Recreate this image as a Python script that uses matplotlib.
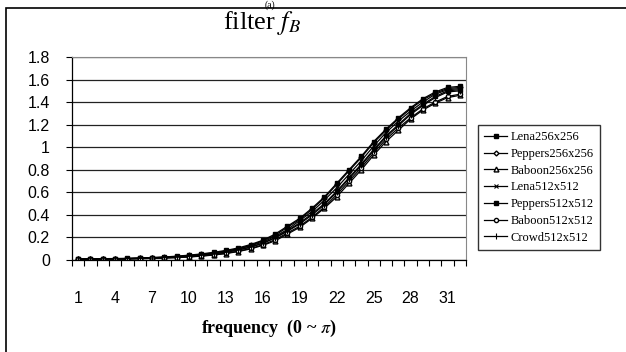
"""Filter f_B response curves for seven test images."""

import matplotlib
matplotlib.use("Agg")
import matplotlib.pyplot as plt
from matplotlib.patches import Rectangle
from matplotlib.ticker import FixedLocator, NullFormatter, FixedFormatter

frequency = list(range(1, 33))

lena256 = [0.01, 0.01, 0.01, 0.01, 0.012, 0.015, 0.018, 0.022, 0.027, 0.034,
           0.043, 0.055, 0.07, 0.09, 0.115, 0.15, 0.2, 0.26, 0.33, 0.41,
           0.5, 0.61, 0.73, 0.85, 0.98, 1.1, 1.2, 1.3, 1.38, 1.45, 1.5, 1.51]
peppers256 = [0.01, 0.01, 0.01, 0.011, 0.013, 0.016, 0.02, 0.025, 0.031, 0.04,
              0.05, 0.063, 0.08, 0.1, 0.13, 0.17, 0.22, 0.29, 0.36, 0.45,
              0.55, 0.67, 0.79, 0.91, 1.04, 1.15, 1.25, 1.34, 1.42, 1.48, 1.52, 1.53]
baboon256 = [0.008, 0.008, 0.008, 0.009, 0.01, 0.012, 0.014, 0.017, 0.021, 0.027,
             0.034, 0.044, 0.057, 0.075, 0.098, 0.13, 0.17, 0.23, 0.29, 0.37,
             0.46, 0.56, 0.68, 0.8, 0.93, 1.05, 1.15, 1.25, 1.33, 1.39, 1.44, 1.46]
lena512 = [0.01, 0.01, 0.01, 0.01, 0.012, 0.015, 0.019, 0.023, 0.029, 0.037,
           0.047, 0.06, 0.076, 0.097, 0.125, 0.16, 0.21, 0.27, 0.35, 0.43,
           0.53, 0.64, 0.76, 0.88, 1.01, 1.13, 1.23, 1.32, 1.4, 1.47, 1.51, 1.52]
peppers512 = [0.012, 0.012, 0.012, 0.013, 0.015, 0.018, 0.022, 0.027, 0.034, 0.043,
              0.054, 0.068, 0.085, 0.107, 0.137, 0.175, 0.23, 0.3, 0.37, 0.46,
              0.56, 0.68, 0.8, 0.92, 1.05, 1.16, 1.26, 1.35, 1.43, 1.49, 1.53, 1.54]
baboon512 = [0.008, 0.008, 0.008, 0.009, 0.01, 0.012, 0.015, 0.018, 0.022, 0.028,
             0.036, 0.046, 0.06, 0.078, 0.102, 0.135, 0.18, 0.24, 0.3, 0.38,
             0.47, 0.58, 0.7, 0.82, 0.95, 1.07, 1.17, 1.26, 1.34, 1.4, 1.45, 1.47]
crowd512 = [0.01, 0.01, 0.01, 0.01, 0.012, 0.014, 0.017, 0.021, 0.026, 0.033,
            0.042, 0.053, 0.068, 0.088, 0.113, 0.148, 0.195, 0.255, 0.32, 0.4,
            0.49, 0.6, 0.72, 0.84, 0.97, 1.09, 1.19, 1.29, 1.37, 1.44, 1.49, 1.5]

series = [
    ("Lena256x256", lena256, dict(marker="s", ms=3, mfc="black")),
    ("Peppers256x256", peppers256, dict(marker="D", ms=2.5, mfc="white")),
    ("Baboon256x256", baboon256, dict(marker="^", ms=3.5, mfc="white")),
    ("Lena512x512", lena512, dict(marker="x", ms=3, mew=0.8)),
    ("Peppers512x512", peppers512, dict(marker="s", ms=3.5, mfc="black")),
    ("Baboon512x512", baboon512, dict(marker="o", ms=3, mfc="white")),
    ("Crowd512x512", crowd512, dict(marker="|", ms=5, mew=0.8)),
]

y_ticks = [0, 0.2, 0.4, 0.6, 0.8, 1, 1.2, 1.4, 1.6, 1.8]
y_labels = ["0", "0.2", "0.4", "0.6", "0.8", "1", "1.2", "1.4", "1.6", "1.8"]
x_label_pos = [1, 4, 7, 10, 13, 16, 19, 22, 25, 28, 31]

W, H = 626, 352
plt.rcParams["mathtext.fontset"] = "stix"
fig = plt.figure(figsize=(W / 100, H / 100), dpi=100)
fig.patch.set_facecolor("white")

# outer frame (only left/top edges fall inside the crop)
fig.patches.append(Rectangle((6 / W, -0.05), 1.2, 1 - 8 / H + 0.05,
                             transform=fig.transFigure, fill=False,
                             edgecolor="black", linewidth=1.2))
fig.text(270 / W, 1.0, "(a)", ha="center", va="top",
         family="Liberation Serif", fontsize=7)

ax = fig.add_axes([72 / W, 1 - 260 / H, (466 - 72) / W, (260 - 57) / H])

for name, vals, style in series:
    ax.plot(frequency, vals, color="black", linewidth=0.9, mec="black",
            label=name, **style)

ax.set_xlim(0.5, 32.5)
ax.set_ylim(0, 1.8)
ax.set_yticks(y_ticks)
ax.set_yticklabels(y_labels, family="Liberation Sans", fontsize=11.5)
ax.yaxis.grid(True, color="#222222", linewidth=0.9)
ax.set_axisbelow(True)

ax.xaxis.set_major_locator(FixedLocator([i + 0.5 for i in range(0, 33)]))
ax.xaxis.set_major_formatter(NullFormatter())
ax.xaxis.set_minor_locator(FixedLocator(x_label_pos))
ax.xaxis.set_minor_formatter(FixedFormatter([str(v) for v in x_label_pos]))
ax.tick_params(axis="x", which="major", direction="out", length=4, width=0.8)
ax.tick_params(axis="x", which="minor", length=0, pad=22,
               labelsize=11.5, labelfontfamily="Liberation Sans")
ax.tick_params(axis="y", direction="out", length=4, width=0.8, pad=12)

for side in ("top", "right"):
    ax.spines[side].set_color("#888888")
    ax.spines[side].set_linewidth(0.8)
for side in ("left", "bottom"):
    ax.spines[side].set_color("black")
    ax.spines[side].set_linewidth(0.9)

fig.text(262 / W, 1 - 23 / H, r"filter $f_{B}$", ha="center", va="center",
         family="Liberation Serif", fontsize=19)
ax.set_xlabel(r"frequency  (0 ~ $\pi$)", family="Liberation Serif",
              fontsize=13, fontweight="bold", labelpad=9)

leg = ax.legend(loc="upper left", bbox_to_anchor=(478 / W, 1 - 125 / H),
                bbox_transform=fig.transFigure, frameon=True, fancybox=False,
                prop={"family": "Liberation Serif", "size": 9},
                handlelength=1.8, handletextpad=0.3, labelspacing=0.38,
                borderpad=0.5, borderaxespad=0)
leg.get_frame().set_edgecolor("black")
leg.get_frame().set_linewidth(1.0)

fig.savefig("out.png", dpi=100)
